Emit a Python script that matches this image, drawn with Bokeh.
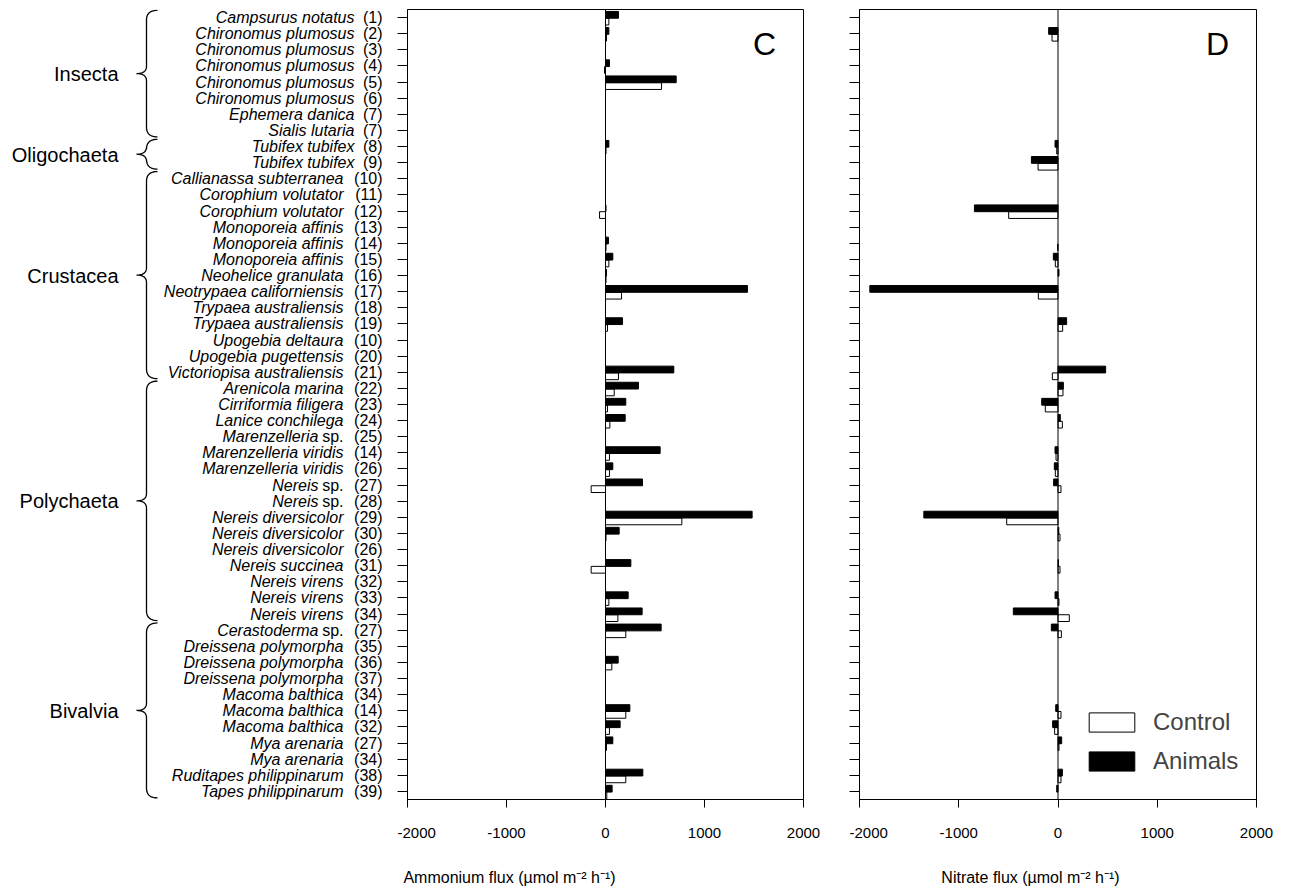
import numpy as np
from bokeh.plotting import figure
from bokeh.models import Range1d, FixedTicker, Span, Legend, LegendItem, Label
from bokeh.layouts import row, column
from bokeh.embed import file_html
from bokeh.resources import INLINE
from bokeh.core.properties import value

nan = float("nan")

species = [
    "Campsurus notatus", "Chironomus plumosus", "Chironomus plumosus", "Chironomus plumosus",
    "Chironomus plumosus", "Chironomus plumosus", "Ephemera danica", "Sialis lutaria",
    "Tubifex tubifex", "Tubifex tubifex", "Callianassa subterranea", "Corophium volutator",
    "Corophium volutator", "Monoporeia affinis", "Monoporeia affinis", "Monoporeia affinis",
    "Neohelice granulata", "Neotrypaea californiensis", "Trypaea australiensis",
    "Trypaea australiensis", "Upogebia deltaura", "Upogebia pugettensis",
    "Victoriopisa australiensis", "Arenicola marina", "Cirriformia filigera",
    "Lanice conchilega", "Marenzelleria sp.", "Marenzelleria viridis", "Marenzelleria viridis",
    "Nereis sp.", "Nereis sp.", "Nereis diversicolor", "Nereis diversicolor",
    "Nereis diversicolor", "Nereis succinea", "Nereis virens", "Nereis virens", "Nereis virens",
    "Cerastoderma sp.", "Dreissena polymorpha", "Dreissena polymorpha", "Dreissena polymorpha",
    "Macoma balthica", "Macoma balthica", "Macoma balthica", "Mya arenaria", "Mya arenaria",
    "Ruditapes philippinarum", "Tapes philippinarum",
]
refs = ["1", "2", "3", "4", "5", "6", "7", "7", "8", "9", "10", "11", "12", "13", "14", "15",
        "16", "17", "18", "19", "10", "20", "21", "22", "23", "24", "25", "14", "26", "27", "28",
        "29", "30", "26", "31", "32", "33", "34", "27", "35", "36", "37", "34", "14", "32", "27",
        "34", "38", "39"]

groups = ["Insecta", "Oligochaeta", "Crustacea", "Polychaeta", "Bivalvia"]
group_start = [1, 9, 11, 24, 39]
group_end = [8, 10, 23, 38, 49]

nh4_animals = [131, 34, nan, 40, 714, nan, nan, nan, 34, nan, nan, nan, 5, nan, 30, 74, 10,
               1434, nan, 172, nan, nan, 690, 333, 205, 199, nan, 552, 74, 374, nan, 1481, 138,
               nan, 256, nan, 229, 370, 562, nan, 128, nan, nan, 246, 148, 74, nan, 377, 67]
nh4_control = [34, 10, nan, -10, 566, nan, nan, nan, 5, nan, nan, nan, -60, nan, 5, 34, 5,
               162, nan, 20, nan, nan, 131, 88, 20, 44, nan, 40, 40, -145, nan, 771, 5,
               nan, -145, nan, 34, 125, 205, nan, 64, nan, nan, 205, 40, 10, nan, 205, 13]
no3_animals = [nan, -94, nan, nan, nan, nan, nan, nan, -30, -268, nan, nan, -842, nan, nan, -47,
               10, -1896, nan, 87, nan, nan, 480, 54, -164, 23, nan, -30, -37, -44, nan, -1352,
               8, nan, 5, nan, -30, -450, -67, nan, nan, nan, nan, -23, -54, 37, nan, 44, -13]
no3_control = [nan, -60, nan, nan, nan, nan, nan, nan, -13, -201, nan, nan, -497, nan, -3, -27,
               nan, -198, nan, 47, nan, nan, -57, 50, -128, 44, nan, -20, -27, 30, nan, -517,
               20, nan, 20, nan, 10, 114, 34, nan, nan, nan, nan, 30, -34, 10, nan, 30, nan]

x_ticks = [-2000, -1000, 0, 1000, 2000]
x_tick_labels = ["-2000", "-1000", "0", "1000", "2000"]
axis_titles = ["Ammonium flux (µmol m⁻² h⁻¹)", "Nitrate flux (µmol m⁻² h⁻¹)"]

FONT_NAME = "Liberation Sans"
FONT = value(FONT_NAME)
rows = np.arange(1, len(species) + 1)
FH = 790
TOP = 9
BOTTOM = 67
yr = (len(species) + 0.5, 0.5)

# ---------------- label column ----------------
lab = figure(frame_width=389, frame_height=FH, x_range=Range1d(0, 389),
             y_range=Range1d(*yr), x_axis_type=None, y_axis_type=None,
             toolbar_location=None, output_backend="svg", min_border_left=8,
             min_border_right=0, min_border_top=TOP, min_border_bottom=BOTTOM,
             outline_line_color=None)
lab.grid.visible = False

ital, ital_x, reg, reg_x, reg_y = [], [], [], [], []
for i, (name, r) in enumerate(zip(species, refs)):
    end = 346 - 11 * (len(r) - 1)
    if name.endswith(" sp."):
        ital.append(name[:-4]); ital_x.append(end - 25)
        reg.append("sp."); reg_x.append(end); reg_y.append(rows[i])
    else:
        ital.append(name); ital_x.append(end)

lab.text(x=ital_x, y=rows, text=ital, text_font=FONT, text_font_style="italic",
         text_font_size="16px", text_align="right", text_baseline="middle", text_color="black")
lab.text(x=reg_x, y=reg_y, text=reg, text_font=FONT, text_font_size="16px",
         text_align="right", text_baseline="middle", text_color="black")
lab.text(x=[374] * len(refs), y=rows, text=["(%s)" % r for r in refs], text_font=FONT,
         text_font_size="16px", text_align="right", text_baseline="middle", text_color="black")


def qbez(p0, c, p1, n=10):
    t = np.linspace(0, 1, n)
    x = (1 - t) ** 2 * p0[0] + 2 * (1 - t) * t * c[0] + t ** 2 * p1[0]
    y = (1 - t) ** 2 * p0[1] + 2 * (1 - t) * t * c[1] + t ** 2 * p1[1]
    return list(x), list(y)


xs, ys = [], []
xt, xv, xp = 149, 138, 128
for s, e in zip(group_start, group_end):
    y0, y1 = s - 0.45, e + 0.4
    ym = (y0 + y1) / 2
    r1, r2 = 0.6, 0.45
    px, py = [], []
    for seg in [((xt, y0), (xv, y0), (xv, y0 + r1)),
                ((xv, ym - r2), (xv, ym), (xp, ym)),
                ((xp, ym), (xv, ym), (xv, ym + r2)),
                ((xv, y1 - r1), (xv, y1), (xt, y1))]:
        bx, by = qbez(*seg)
        px += bx; py += by
    xs.append(px); ys.append(py)
lab.multi_line(xs=xs, ys=ys, line_color="black", line_width=1.3)

lab.text(x=[110] * len(groups), y=[(s + e) / 2 for s, e in zip(group_start, group_end)],
         text=groups, text_font=FONT, text_font_size="20px", text_align="right",
         text_baseline="middle", text_color="black")


# ---------------- panels ----------------
def panel(animals, control, letter, fw, right_border, with_legend=False):
    p = figure(frame_width=fw, frame_height=FH, x_range=Range1d(-2000, 2000),
               y_range=Range1d(*yr), toolbar_location=None, output_backend="svg",
               min_border_left=0, min_border_right=right_border, min_border_top=TOP,
               min_border_bottom=BOTTOM, outline_line_color="black", outline_line_width=1)
    p.grid.visible = False
    rc = p.hbar(y=rows + 0.25, left=0, right=np.array(control, dtype=float), height=0.42,
                fill_color="white", line_color="black", line_width=1)
    ra = p.hbar(y=rows - 0.17, left=0, right=np.array(animals, dtype=float), height=0.42,
                fill_color="black", line_color="black", line_width=1)
    p.add_layout(Span(location=0, dimension="height", line_color="black", line_width=1))

    xa = p.xaxis[0]
    xa.ticker = FixedTicker(ticks=x_ticks)
    xa.major_label_overrides = dict(zip(x_ticks, x_tick_labels))
    xa.major_tick_out = 8
    xa.major_tick_in = 0
    xa.minor_tick_out = 0
    xa.minor_tick_in = 0
    xa.axis_line_color = "black"
    xa.major_tick_line_color = "black"
    xa.major_label_text_font = FONT_NAME
    xa.major_label_text_font_size = "15px"
    xa.major_label_text_color = "black"
    xa.major_label_standoff = 20

    ya = p.yaxis[0]
    ya.ticker = FixedTicker(ticks=list(rows))
    ya.major_tick_out = 10
    ya.major_tick_in = 0
    ya.minor_tick_out = 0
    ya.minor_tick_in = 0
    ya.axis_line_color = "black"
    ya.major_tick_line_color = "black"
    ya.major_label_text_font_size = "1px"
    ya.major_label_text_alpha = 0
    ya.major_label_text_color = None
    ya.major_label_standoff = 0

    p.add_layout(Label(x=1490, y=1.55, text=letter, text_font=FONT_NAME, text_font_size="32px",
                       text_baseline="top", text_align="left", text_color="black"))
    if with_legend:
        leg = Legend(items=[LegendItem(label="Control", renderers=[rc]),
                            LegendItem(label="Animals", renderers=[ra])],
                     location=(224, 24), glyph_width=57, glyph_height=24,
                     label_text_font=FONT_NAME, label_text_font_size="24px", label_standoff=13,
                     spacing=11, padding=0, margin=0, border_line_color=None,
                     background_fill_alpha=0)
        p.add_layout(leg)
    return p


pc = panel(nh4_animals, nh4_control, "C", 396, 46)
pd = panel(no3_animals, no3_control, "D", 397, 20, True)

# ---------------- axis-title strip ----------------
SW = 1275
strip = figure(frame_width=SW, frame_height=22, x_range=Range1d(0, SW), y_range=Range1d(0, 22),
               x_axis_type=None, y_axis_type=None, toolbar_location=None, output_backend="svg",
               min_border_left=0, min_border_right=0, min_border_top=0, min_border_bottom=0,
               outline_line_color=None)
strip.grid.visible = False
strip.text(x=[509, 1030], y=[11, 11], text=axis_titles, text_font=FONT, text_font_size="16px",
           text_align="center", text_baseline="middle", text_color="black")

layout = column(row(lab, pc, pd), strip)
open("out.html", "w").write(file_html(layout, INLINE))
